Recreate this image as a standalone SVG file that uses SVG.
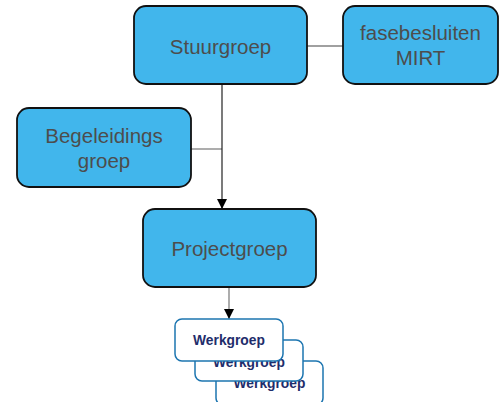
<svg xmlns="http://www.w3.org/2000/svg" width="504" height="402" viewBox="0 0 504 402">
<style>
.box{fill:#41b6ec;stroke:#111;stroke-width:1.8}
.t{font-family:"Liberation Sans",Arial,sans-serif;font-size:20.5px;fill:#4d4d4d;text-anchor:middle}
.wg{fill:#fff;stroke:#1c75b0;stroke-width:1.5}
.wt{font-family:"Liberation Sans",Arial,sans-serif;font-size:13.8px;font-weight:bold;fill:#1f2d6b;text-anchor:middle}
.c{stroke:#808080;stroke-width:1.3;fill:none}
.cd{stroke:#222;stroke-width:1.2;fill:none}
</style>
<defs>
<marker id="ah" viewBox="0 0 10 10" refX="10" refY="5" markerWidth="11" markerHeight="10" markerUnits="userSpaceOnUse" orient="auto">
<path d="M0,0 L10,5 L0,10 z" fill="#000"/>
</marker>
</defs>
<g id="connectors">
<line class="c" x1="307" y1="46" x2="343" y2="46"/>
<line class="c" x1="191" y1="149" x2="222" y2="149"/>
<line class="cd" x1="222" y1="84" x2="222" y2="209" marker-end="url(#ah)"/>
<line class="c" x1="229" y1="287" x2="229" y2="319" marker-end="url(#ah)"/>
</g>
<g id="stuurgroep">
<rect class="box" x="134" y="6" width="173" height="78" rx="12"/>
<text class="t" x="220.5" y="54">Stuurgroep</text>
</g>
<g id="fasebesluiten">
<rect class="box" x="343" y="6" width="155" height="78" rx="12"/>
<text class="t" x="420.5" y="40">fasebesluiten</text>
<text class="t" x="420.5" y="65">MIRT</text>
</g>
<g id="begeleidingsgroep">
<rect class="box" x="17" y="108" width="174" height="79" rx="12"/>
<text class="t" x="104" y="143">Begeleidings</text>
<text class="t" x="104" y="168">groep</text>
</g>
<g id="projectgroep">
<rect class="box" x="143" y="209" width="173" height="78" rx="12"/>
<text class="t" x="229.5" y="256">Projectgroep</text>
</g>
<g id="werkgroep3">
<rect class="wg" x="216" y="361" width="107" height="44" rx="7"/>
<text class="wt" x="269.5" y="388">Werkgroep</text>
</g>
<g id="werkgroep2">
<rect class="wg" x="195" y="340" width="108" height="41" rx="7"/>
<text class="wt" x="249" y="367">Werkgroep</text>
</g>
<g id="werkgroep1">
<rect class="wg" x="175" y="319" width="108" height="42" rx="7"/>
<text class="wt" x="229" y="345">Werkgroep</text>
</g>
</svg>
